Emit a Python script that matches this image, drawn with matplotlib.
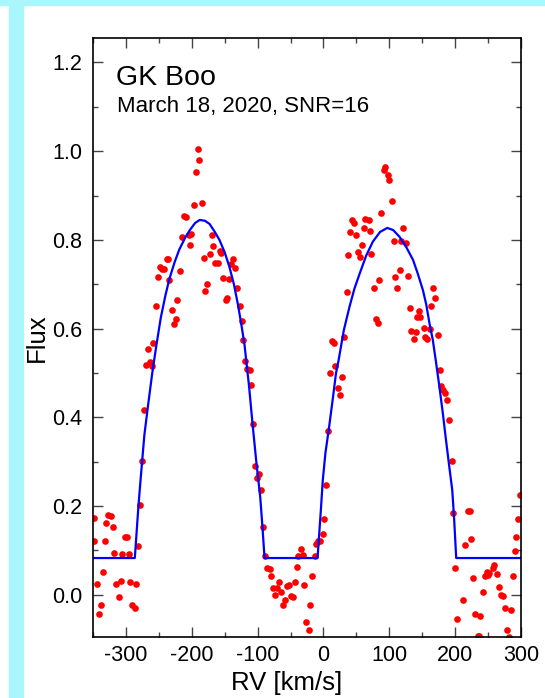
import matplotlib
matplotlib.use("Agg")
import matplotlib.pyplot as plt
from matplotlib.ticker import MultipleLocator

plt.rcParams["font.family"] = ["Liberation Sans", "DejaVu Sans"]
plt.rcParams["axes.unicode_minus"] = False

# observed line profile (RV in km/s, normalised flux)
rv_obs = [
    -348, -327.2, -322.7, -330.3, -320.2, -348, -332.4, -302, -298.3, -281.6,
    -318.1, -306, -295.9, -334.8, -343.9, -315.1, -308, -293.3, -284.2, -311,
    -338.4, -341.5, -291.3, -286.8, -278.6,
    -275.1, -272.5, -269.5, -263.4, -260.3, -258.4, -266, -253.8, -250.8, -248.8,
    -245.7, -242.1, -237.5, -235.6, -234, -229.5, -226.9, -224.5, -221.9, -218.4,
    -215.3, -212.3, -209.3, -204.7, -200.6, -203.2, -196, -194, -190.9, -188.4,
    -184.4, -181.9, -179.3, -176.8, -172.2, -169.7, -167.2, -164.1, -160, -157.6,
    -155, -152.4, -148.5, -145.9, -143.3, -140.9, -136.8, -133.7, -131.2, -127.2,
    -124.2, -121.6, -119.6, -116, -112, -109.4, -107.4, -104.4, -97.7, -100.8,
    -95, -91.2,
    -88.6, -86.2, -81.6, -79, -76, -71, -74, -67.4, -64.9, -61.8,
    -58.2, -54.7, -52.1, -49.1, -46, -43, -40.6, -38, -33.9, -31.5,
    -29.3, -25.8, -22.3, -19.8, -17.2, -13.2, -10.6, -8, -4.6, -1,
    1.5, 4.1,
    7.1, 10.6, 13.2, 16.5, 18.2, 22.8, 25.4, 28.4, 30.7, 35,
    37.5, 40, 42.6, 46.7, 49.7, 52.1, 55.8, 58.8, 61.2, 63.8,
    68.4, 71, 72.9, 76, 79.5, 82.1, 85.1, 88.1, 91.6, 94.2,
    97.3, 99.8, 103.8, 106.4, 109, 112, 116, 118.5, 121.1, 125.1,
    127.7, 130.7, 133.3, 137.2, 139.8, 141.8, 144.8, 147, 152, 154,
    157, 161.1, 163.7, 166.1, 169.1, 173.3, 176.3, 178.9, 181.9, 184.9,
    188, 191, 195, 196.5,
    200.1, 202.6, 212.3, 214.7, 219.3, 221.9, 223.4, 226.4, 230.5, 234,
    236, 238.1, 242.7, 245.1, 248.2, 249.2, 251.2, 256.8, 259.4, 264,
    266, 269.5, 272, 275.5, 278.1, 281.2, 284.2, 287.7, 290.3, 292.8,
    295.3, 299,
]
flux_obs = [
    0.174, 0.179, 0.178, 0.162, 0.152, 0.122, 0.121, 0.130, 0.130, 0.110,
    0.095, 0.092, 0.092, 0.052, 0.024, 0.024, 0.032, 0.028, 0.024, -0.004,
    -0.023, -0.043, -0.023, -0.029, 0.203,
    0.302, 0.417, 0.519, 0.525, 0.516, 0.567, 0.553, 0.651, 0.716, 0.738,
    0.734, 0.734, 0.756, 0.757, 0.709, 0.643, 0.610, 0.622, 0.664, 0.731,
    0.806, 0.854, 0.851, 0.812, 0.814, 0.788, 0.879, 0.954, 1.004, 0.981,
    0.884, 0.759, 0.684, 0.700, 0.769, 0.810, 0.786, 0.747, 0.747, 0.775,
    0.771, 0.713, 0.664, 0.670, 0.712, 0.745, 0.757, 0.737, 0.691, 0.651,
    0.617, 0.574, 0.528, 0.508, 0.506, 0.473, 0.384, 0.291, 0.273, 0.264,
    0.237, 0.154,
    0.087, 0.061, 0.058, 0.043, 0.016, 0.016, 0.000, 0.028, 0.007, -0.023,
    -0.011, 0.020, 0.022, -0.002, -0.004, 0.028, 0.063, 0.088, 0.103, 0.090,
    0.022, -0.062, -0.080, -0.022, 0.043, 0.088, 0.115, 0.122, 0.122, 0.137,
    0.172, 0.247,
    0.369, 0.499, 0.571, 0.568, 0.516, 0.466, 0.450, 0.491, 0.582, 0.682,
    0.765, 0.818, 0.844, 0.839, 0.810, 0.773, 0.761, 0.788, 0.827, 0.848,
    0.845, 0.821, 0.769, 0.692, 0.622, 0.613, 0.710, 0.860, 0.957, 0.965,
    0.947, 0.934, 0.887, 0.797, 0.716, 0.692, 0.732, 0.797, 0.826, 0.793,
    0.718, 0.647, 0.595, 0.577, 0.593, 0.627, 0.640, 0.627, 0.602, 0.581,
    0.576, 0.599, 0.652, 0.692, 0.668, 0.586, 0.507, 0.471, 0.462, 0.454,
    0.440, 0.393, 0.302, 0.185,
    0.061, -0.055, -0.011, 0.113, 0.189, 0.189, 0.126, 0.038, -0.043, -0.092,
    -0.092, -0.047, 0.007, 0.043, 0.052, 0.045, 0.050, 0.061, 0.067, 0.047,
    0.017, -0.001, -0.002, -0.029, -0.080, -0.094, -0.035, 0.043, 0.099, 0.130,
    0.170, 0.225,
]

# two-component model profile
rv_model = [
    -350, -286.5, -281, -278, -272, -267, -260, -254, -247, -240,
    -234, -226, -219, -210, -203, -195, -188, -180, -173, -165,
    -158, -150, -143, -136, -130, -125, -120, -113, -108, -102,
    -96, -92.5, -89.5,
    -9, -4, -1, 3, 8, 14, 19, 23, 31, 39.5,
    47, 55, 65, 75, 86, 97, 106, 115.5, 126, 136,
    143, 151, 156, 161, 166, 170.5, 176, 181.3, 186, 190.4,
    195.6, 198.5, 201.6, 300,
]
flux_model = [
    0.083, 0.083, 0.20, 0.255, 0.36, 0.42, 0.50, 0.56, 0.625, 0.675,
    0.712, 0.750, 0.778, 0.805, 0.822, 0.838, 0.845, 0.843, 0.836, 0.818,
    0.800, 0.772, 0.740, 0.700, 0.655, 0.612, 0.565, 0.47, 0.39, 0.30,
    0.22, 0.15, 0.083,
    0.083, 0.19, 0.259, 0.32, 0.372, 0.44, 0.499, 0.529, 0.597, 0.649,
    0.69, 0.724, 0.765, 0.796, 0.818, 0.827, 0.822, 0.807, 0.783, 0.755,
    0.725, 0.687, 0.655, 0.612, 0.575, 0.529, 0.47, 0.409, 0.35, 0.297,
    0.236, 0.17, 0.083, 0.083,
]

star = "GK Boo"
night = "March 18, 2020, SNR=16"

fig = plt.figure(figsize=(5.45, 6.98), dpi=100)

# cyan frame strips along the top and left
fig.patches.append(plt.Rectangle((0, 1 - 5 / 698), 1, 5 / 698, transform=fig.transFigure,
                                 color="#aaf6fd", zorder=0))
fig.patches.append(plt.Rectangle((9 / 545, 0), 14 / 545, 1, transform=fig.transFigure,
                                 color="#aaf6fd", zorder=0))

ax = fig.add_axes([93 / 545, 61 / 698, 428 / 545, 599 / 698])

ax.plot(rv_obs, flux_obs, "o", color="#ff0000", markersize=4.8, markeredgewidth=0)
ax.plot(rv_model, flux_model, color="#0000ff", linewidth=1.6)

ax.set_xlim(-350, 300)
ax.set_ylim(-0.095, 1.255)
ax.xaxis.set_major_locator(MultipleLocator(100))
ax.xaxis.set_minor_locator(MultipleLocator(50))
ax.yaxis.set_major_locator(MultipleLocator(0.2))
ax.yaxis.set_minor_locator(MultipleLocator(0.1))
ax.yaxis.set_major_formatter(plt.FuncFormatter(lambda v, p: f"{v:.1f}"))

ax.tick_params(which="both", direction="in", top=True, right=True, color="#444444")
ax.tick_params(which="major", length=7, width=1, labelsize=15.5)
ax.tick_params(axis="y", which="major", pad=8)
ax.tick_params(axis="x", which="major", pad=5.5)
ax.tick_params(which="minor", length=3.5, width=1)
for spine in ax.spines.values():
    spine.set_linewidth(1.2)

ax.set_xlabel("RV [km/s]", fontsize=18.5)
ax.xaxis.set_label_coords(0.453, -0.056)
ax.set_ylabel("Flux", fontsize=18.5, labelpad=2)

ax.text(0.054, 0.9215, star, transform=ax.transAxes, fontsize=20.5, va="baseline")
ax.text(0.055, 0.877, night, transform=ax.transAxes, fontsize=16, va="baseline")

fig.savefig("out.png", dpi=100)
